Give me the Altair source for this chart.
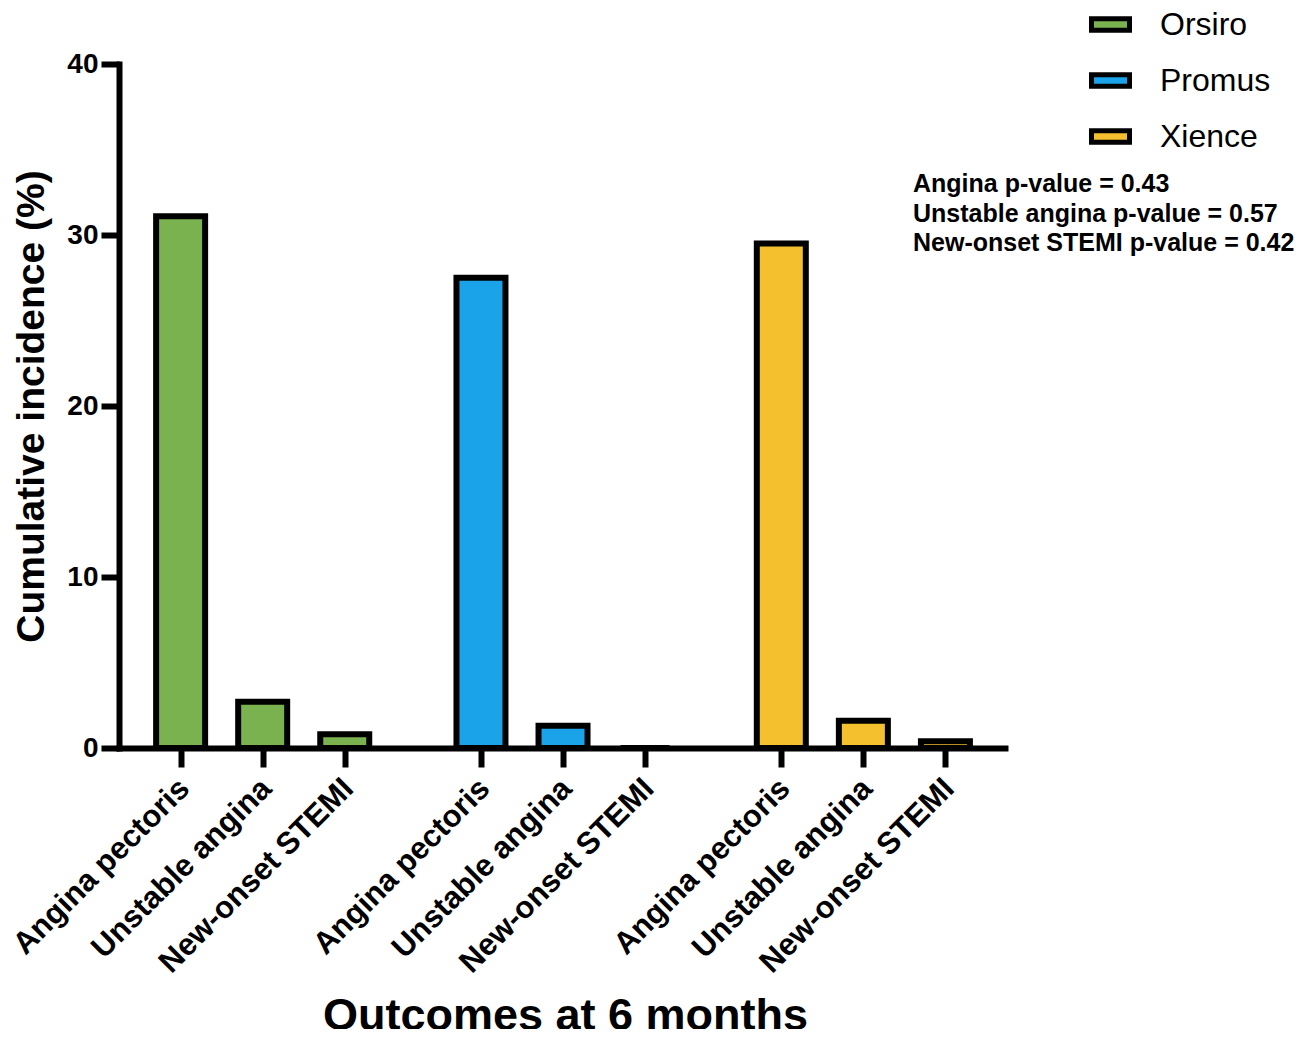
import altair as alt
import pandas as pd

# ---- data ----
groups = ["Orsiro", "Promus", "Xience"]
outcomes = ["Angina pectoris", "Unstable angina", "New-onset STEMI"]
orsiro = [31.1, 2.7, 0.8]
promus = [27.5, 1.3, 0.0]
xience = [29.5, 1.6, 0.4]
colors = ["#7AB24F", "#1AA3E9", "#F5C02E"]
pvalue_lines = [
    "Angina p-value = 0.43",
    "Unstable angina p-value = 0.57",
    "New-onset STEMI p-value = 0.42",
]
y_ticks = [0, 10, 20, 30, 40]

FONT = "Liberation Sans"
GROUP_STEP = 3.66  # one group of three bars plus the gap between groups

rows = []
for g, (name, vals) in enumerate(zip(groups, [orsiro, promus, xience])):
    for i, (o, v) in enumerate(zip(outcomes, vals)):
        rows.append({"group": name, "outcome": o,
                     "pos": round(g * GROUP_STEP + i, 2), "value": v})
df = pd.DataFrame(rows)
positions = list(df["pos"])
label_expr = " : ".join(
    f"datum.value < {p + 0.5} ? '{o}'" for p, o in zip(df["pos"], df["outcome"])
) + " : ''"

bars = alt.Chart(df).mark_bar(
    size=49, stroke="black", strokeWidth=6, orient="vertical", strokeJoin="miter"
).encode(
    x=alt.X(
        "pos:Q",
        scale=alt.Scale(domain=[-0.69, 9.985], nice=False, zero=False),
        axis=alt.Axis(
            values=positions, labelExpr=label_expr, labelAngle=-45,
            labelAlign="right", labelBaseline="top", labelPadding=6, labelOffset=-7,
            labelOverlap=False, labelBound=False, labelFlush=False, labelLimit=0,
            labelFont=FONT, labelFontSize=31, labelFontWeight="bold", labelColor="black",
            domainColor="black", domainWidth=6, domainCap="square",
            tickColor="black", tickWidth=6, tickSize=19, grid=False,
            title="Outcomes at 6 months", titleFont=FONT, titleFontSize=45,
            titleFontWeight="bold", titleColor="black",
            titleX=446, titleY=281, titleAlign="center", titleBaseline="alphabetic",
        ),
    ),
    y=alt.Y(
        "value:Q",
        scale=alt.Scale(domain=[0, 40], nice=False),
        axis=alt.Axis(
            values=y_ticks, labelFont=FONT, labelFontSize=28, labelFontWeight="bold",
            labelColor="black", labelPadding=3,
            domainColor="black", domainWidth=6, domainCap="square",
            tickColor="black", tickWidth=6, tickSize=18, grid=False,
            title="Cumulative incidence (%)", titleFont=FONT, titleFontSize=39,
            titleFontWeight="bold", titleColor="black", titleAngle=-90,
            titleX=-76, titleY=342, titleAlign="center", titleBaseline="alphabetic",
        ),
    ),
    fill=alt.Fill(
        "group:N",
        scale=alt.Scale(domain=groups, range=colors),
        legend=alt.Legend(
            title=None, orient="none", legendX=975.5, legendY=-55.5, padding=0,
            symbolType="M-2,-0.6H2V0.6H-2Z", symbolSize=361,
            symbolStrokeColor="black", symbolStrokeWidth=5, symbolOpacity=1,
            labelFont=FONT, labelFontSize=32, labelFontWeight="normal",
            labelColor="black", labelOffset=33.5, rowPadding=24,
        ),
    ),
)

notes_df = pd.DataFrame({"text": ["\n".join(pvalue_lines)]})
notes = alt.Chart(notes_df).mark_text(
    align="left", baseline="alphabetic", font=FONT, fontSize=25,
    fontWeight="bold", color="black", lineBreak="\n", lineHeight=29.5,
).encode(x=alt.value(794), y=alt.value(128), text="text:N")

chart = alt.layer(bars, notes).properties(
    width=886, height=684,
    autosize=alt.AutoSizeParams(type="none"),
    padding={"left": 111, "top": 56, "right": 294, "bottom": 281},
    background="white",
).configure_view(stroke=None)

chart.save("out.html", embed_options={"renderer": "svg", "actions": False})
